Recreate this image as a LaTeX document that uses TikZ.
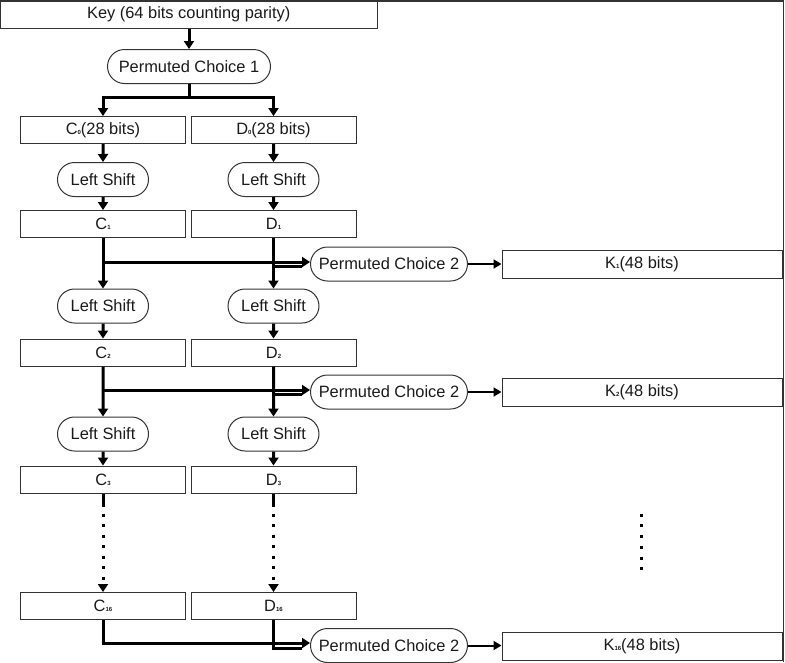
\documentclass[tikz,border=0pt]{standalone}
\usepackage{fontspec}
\setmainfont{Liberation Sans}
\usetikzlibrary{arrows.meta,shapes.misc}
\newcommand\subn[1]{{\fontsize{6}{6}\selectfont\bfseries #1}}
\definecolor{boxc}{HTML}{333333}
\definecolor{txt}{HTML}{1A1A1A}
\begin{document}
\begin{tikzpicture}[x=1pt,y=-1pt,
  lbl/.style={font=\fontsize{16.4}{19}\selectfont, text=txt},
  box/.style={lbl, draw=boxc, line width=1pt, minimum height=27pt, inner sep=0pt},
  cbox/.style={box, minimum width=165pt},
  kbox/.style={box, minimum width=280pt, minimum height=28pt},
  pill/.style={lbl, rounded rectangle, draw=boxc, line width=1pt, inner sep=0pt, minimum height=34pt},
  lsbox/.style={pill, minimum width=91pt},
  pcbox/.style={pill, minimum width=157pt},
  ln/.style={line width=3pt, draw=black, line join=miter},
  arr/.style={ln, -{Triangle[length=8pt,width=10pt]}},
  karr/.style={line width=2pt, draw=black, -{Triangle[length=8pt,width=9pt]}},
  dots/.style={dash pattern=on 13pt off 7pt on 3pt off 7.5pt on 3pt off 7.5pt on 3pt off 7.5pt on 3pt off 7.5pt on 3pt off 7.5pt on 3pt off 7.5pt on 3pt off 6pt on 40pt}
]
\useasboundingbox (0,0) rectangle (785,662);
\draw[line width=1.5pt, draw=boxc] (0,0.75) -- (783.5,0.75) -- (783.5,662);

% top
\node[box, minimum width=376.5pt] (key) at (188.75,14.5) {Key (64 bits counting parity)};
\node[pill, minimum width=163pt] (pc1) at (189,66.5) {Permuted Choice 1};
\coordinate (split) at (189,97);

% round 0
\node[cbox] (c0) at (103,130) {C\subn{0}(28 bits)};
\node[cbox] (d0) at (273.5,130) {D\subn{0}(28 bits)};
\node[lsbox] (lsc1) at (103,179.5) {Left Shift};
\node[lsbox] (lsd1) at (273.5,179.5) {Left Shift};
\node[cbox] (c1) at (103,224) {C\subn{1}};
\node[cbox] (d1) at (273.5,224) {D\subn{1}};
\node[pcbox] (pa) at (389,264) {Permuted Choice 2};
\node[kbox] (k1) at (642,264.5) {K\subn{1}(48 bits)};
\coordinate (jc1) at (103,262);
\coordinate (jd1) at (273.5,266.5);
\coordinate (je1) at (302,266.5);

% round 2
\node[lsbox] (lsc2) at (103,306) {Left Shift};
\node[lsbox] (lsd2) at (273.5,306) {Left Shift};
\node[cbox] (c2) at (103,352.5) {C\subn{2}};
\node[cbox] (d2) at (273.5,352.5) {D\subn{2}};
\node[pcbox] (pb) at (389,392) {Permuted Choice 2};
\node[kbox] (k2) at (642,392) {K\subn{2}(48 bits)};
\coordinate (jc2) at (103,390);
\coordinate (jd2) at (273.5,394.5);
\coordinate (je2) at (302,394.5);

% round 3
\node[lsbox] (lsc3) at (103,434) {Left Shift};
\node[lsbox] (lsd3) at (273.5,434) {Left Shift};
\node[cbox] (c3) at (103,479.5) {C\subn{3}};
\node[cbox] (d3) at (273.5,479.5) {D\subn{3}};

% round 16
\node[cbox] (c16) at (103,606) {C\subn{16}};
\node[cbox] (d16) at (273.5,606) {D\subn{16}};
\node[pcbox] (pc) at (389,645.5) {Permuted Choice 2};
\node[kbox] (k16) at (642,646) {K\subn{16}(48 bits)};
\coordinate (jc3) at (103,643);
\coordinate (jd3) at (302,648);

% connectors
\draw[arr] (key.south -| pc1.north) -- (pc1.north);
\draw[ln] (pc1.south) -- (split);
\draw[arr] (split) -| (c0);
\draw[arr] (split) -| (d0);
\draw[arr] (c0) -- (lsc1);
\draw[arr] (d0) -- (lsd1);
\draw[arr] (lsc1) -- (c1);
\draw[arr] (lsd1) -- (d1);

\draw[arr] (c1) -- (lsc2);
\draw[arr] (d1) -- (lsd2);
\draw[ln] (jd1) -- (je1);
\draw[arr] (jc1) -- (pa.west |- jc1);
\draw[karr] (pa.east) -- (pa.east -| k1.west);
\draw[arr] (lsc2) -- (c2);
\draw[arr] (lsd2) -- (d2);

\draw[arr] (c2) -- (lsc3);
\draw[arr] (d2) -- (lsd3);
\draw[ln] (jd2) -- (je2);
\draw[arr] (jc2) -- (pb.west |- jc2);
\draw[karr] (pb.east) -- (pb.east -| k2.west);
\draw[arr] (lsc3) -- (c3);
\draw[arr] (lsd3) -- (d3);

\draw[arr, dots] (c3) -- (c16);
\draw[arr, dots] (d3) -- (d16);

\draw[ln] (d16.south) |- (jd3);
\draw[arr] (c16.south) |- (pc.west |- jc3);
\draw[karr] (pc.east) -- (pc.east -| k16.west);

% vertical ellipsis for the K column
\coordinate (ea) at (641,513.5);
\coordinate (eb) at (641,570.5);
\draw[line width=3pt, dash pattern=on 3pt off 7.75pt] (ea) -- (eb);
\end{tikzpicture}
\end{document}
